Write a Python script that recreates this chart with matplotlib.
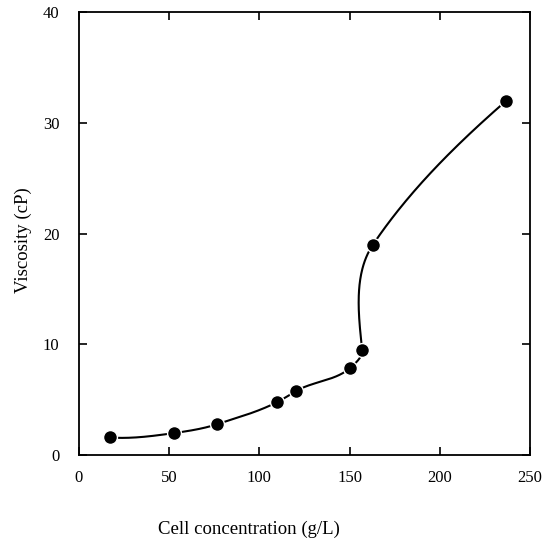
import numpy as np
import matplotlib
matplotlib.use("Agg")
import matplotlib.pyplot as plt

# Data
cell_conc = [17.2, 52.8, 76.7, 110.0, 120.5, 150.5, 157.0, 163.0, 237.0]
viscosity = [1.6, 2.0, 2.8, 4.8, 5.8, 7.9, 9.5, 19.0, 32.0]
x_ticks = [0, 50, 100, 150, 200, 250]
y_ticks = [0, 10, 20, 30, 40]

# Style: direction (degrees, on screen) of the hand-drawn curve at each point
curve_angles = [-4, 8, 18, 27, 30, 42, 96, 56, 41]

plt.rcParams['font.family'] = ['Liberation Serif', 'DejaVu Serif']

fig = plt.figure(figsize=(5.48, 5.40), dpi=100)
ax = fig.add_axes([0.144, 0.157, 0.823, 0.821])
ax.set_xlim(0, 250)
ax.set_ylim(0, 40)


def hermite_curve(xs, ys, angles, sx, sy, n=80):
    P = np.column_stack([np.asarray(xs) * sx, np.asarray(ys) * sy])
    a = np.radians(angles)
    D = np.column_stack([np.cos(a), np.sin(a)])
    out = []
    s = np.linspace(0, 1, n)[:, None]
    h00 = 2 * s**3 - 3 * s**2 + 1
    h10 = s**3 - 2 * s**2 + s
    h01 = -2 * s**3 + 3 * s**2
    h11 = s**3 - s**2
    for i in range(len(P) - 1):
        L = np.linalg.norm(P[i + 1] - P[i])
        C = h00 * P[i] + h10 * L * D[i] + h01 * P[i + 1] + h11 * L * D[i + 1]
        out.append(C)
    C = np.vstack(out)
    return C[:, 0] / sx, C[:, 1] / sy


sx = 452 / 250
sy = 443 / 40
cx, cy = hermite_curve(cell_conc, viscosity, curve_angles, sx, sy)
ax.plot(cx, cy, color='black', lw=1.5, zorder=2)
ax.plot(cell_conc, viscosity, 'o', color='black', ms=10, zorder=3,
        markeredgecolor='white', markeredgewidth=1.0)

ax.set_xticks(x_ticks)
ax.set_yticks(y_ticks)
ax.tick_params(direction='in', top=True, right=True, length=6, width=1.2,
               labelsize=12, pad=11)
ax.tick_params(axis='y', pad=14)
for s in ax.spines.values():
    s.set_linewidth(1.3)

ax.set_xlabel('Cell concentration (g/L)', fontsize=13.5)
ax.xaxis.set_label_coords(0.377, -0.148)
ax.set_ylabel('Viscosity (cP)', fontsize=13.5)
ax.yaxis.set_label_coords(-0.105, 0.485)

fig.savefig('out.png', dpi=100)
